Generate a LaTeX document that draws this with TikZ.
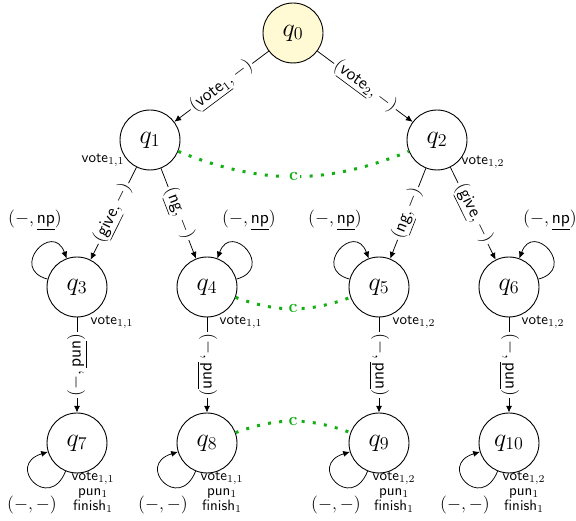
\documentclass[tikz,border=0pt]{standalone}
\usetikzlibrary{arrows.meta}
\definecolor{startfill}{RGB}{255,249,212}
\definecolor{syncgreen}{RGB}{20,175,20}
\newcommand{\act}[1]{\textsf{#1}}
\begin{document}
\begin{tikzpicture}[x=0.667pt,y=0.667pt,
  state/.style={circle,draw,line width=0.6pt,minimum size=40pt,inner sep=0pt,font=\LARGE},
  trans/.style={-{Latex[length=4.5pt,width=4pt]},line width=0.5pt},
  elabel/.style={fill=white,inner sep=1pt,font=\large},
  looplabel/.style={font=\large},
  uploop/.style={trans,distance=27pt},
  downloop/.style={trans,distance=30pt},
  tag/.style={inner sep=0pt},
  sync/.style={syncgreen,line width=2pt,dash pattern=on 2pt off 5.5pt},
  synclabel/.style={fill=white,text=syncgreen,font=\large\bfseries,inner sep=1.5pt}
]
\useasboundingbox (0,0) rectangle (576,521);

% states
\node[state,fill=startfill] (q0) at (293,488) {$q_0$};
\node[state] (q1) at (150,381) {$q_1$};
\node[state] (q2) at (437,381) {$q_2$};
\node[state] (q3) at (77,234) {$q_3$};
\node[state] (q4) at (207,234) {$q_4$};
\node[state] (q5) at (379,234) {$q_5$};
\node[state] (q6) at (509,234) {$q_6$};
\node[state] (q7) at (77,78) {$q_7$};
\node[state] (q8) at (207,78) {$q_8$};
\node[state] (q9) at (379,78) {$q_9$};
\node[state] (q10) at (509,78) {$q_{10}$};

% state annotations
\node[tag] (t1) at (103,361) {\act{vote}$_{1,1}$};
\node[tag] (t2) at (483,359) {\act{vote}$_{1,2}$};
\node[tag] (t3) at (112,199) {\act{vote}$_{1,1}$};
\node[tag] (t4) at (241,199) {\act{vote}$_{1,1}$};
\node[tag] (t5) at (414,199) {\act{vote}$_{1,2}$};
\node[tag] (t6) at (543,199) {\act{vote}$_{1,2}$};
\node[tag,align=center] (t7) at (93,29) {\act{vote}$_{1,1}$\\[-2pt]\act{pun}$_1$\\[-2pt]\act{finish}$_1$};
\node[tag,align=center] (t8) at (222,29) {\act{vote}$_{1,1}$\\[-2pt]\act{pun}$_1$\\[-2pt]\act{finish}$_1$};
\node[tag,align=center] (t9) at (394,29) {\act{vote}$_{1,2}$\\[-2pt]\act{pun}$_1$\\[-2pt]\act{finish}$_1$};
\node[tag,align=center] (t10) at (524,29) {\act{vote}$_{1,2}$\\[-2pt]\act{pun}$_1$\\[-2pt]\act{finish}$_1$};

% transitions
\draw[trans] (q0) -- node[elabel,sloped] (l01) {$(\underline{\act{vote}_{1}},-)$} (q1);
\draw[trans] (q0) -- node[elabel,sloped] (l02) {$(\underline{\act{vote}_{2}},-)$} (q2);
\draw[trans] (q1) -- node[elabel,sloped] (l13) {$(\underline{\act{give}},-)$} (q3);
\draw[trans] (q1) -- node[elabel,sloped] (l14) {$(\underline{\act{ng}},-)$} (q4);
\draw[trans] (q2) -- node[elabel,sloped] (l25) {$(\underline{\act{ng}},-)$} (q5);
\draw[trans] (q2) -- node[elabel,sloped] (l26) {$(\underline{\act{give}},-)$} (q6);
\draw[trans] (q3) -- node[elabel,rotate=90] (l37) {$(-,\underline{\act{pun}})$} (q7);
\draw[trans] (q4) -- node[elabel,rotate=-90] (l48) {$(-,\underline{\act{pun}})$} (q8);
\draw[trans] (q5) -- node[elabel,rotate=-90] (l59) {$(-,\underline{\act{pun}})$} (q9);
\draw[trans] (q6) -- node[elabel,rotate=-90] (l610) {$(-,\underline{\act{pun}})$} (q10);

% self loops
\draw[uploop] (q3.165) to[out=165,in=110] (q3.110);
\draw[uploop] (q4.15) to[out=15,in=70] (q4.70);
\draw[uploop] (q5.165) to[out=165,in=110] (q5.110);
\draw[uploop] (q6.15) to[out=15,in=70] (q6.70);
\node[looplabel] (s3) at (35,301) {$(-,\underline{\act{np}})$};
\node[looplabel] (s4) at (249,301) {$(-,\underline{\act{np}})$};
\node[looplabel] (s5) at (335,301) {$(-,\underline{\act{np}})$};
\node[looplabel] (s6) at (550,301) {$(-,\underline{\act{np}})$};

\draw[downloop] (q7.248) to[out=248,in=197] (q7.197);
\draw[downloop] (q8.248) to[out=248,in=197] (q8.197);
\draw[downloop] (q9.248) to[out=248,in=197] (q9.197);
\draw[downloop] (q10.248) to[out=248,in=197] (q10.197);
\node[looplabel] (s7) at (32,16) {$(-,-)$};
\node[looplabel] (s8) at (163,16) {$(-,-)$};
\node[looplabel] (s9) at (336,16) {$(-,-)$};
\node[looplabel] (s10) at (465,16) {$(-,-)$};

% synchronisation links
\draw[sync] (q1) to[bend right=22] node[synclabel] (c12) {c} (q2);
\draw[sync] (q4) to[bend right=20] node[synclabel] (c45) {c} (q5);
\draw[sync] (q8) to[bend left=20] node[synclabel] (c89) {c} (q9);
\end{tikzpicture}
\end{document}
